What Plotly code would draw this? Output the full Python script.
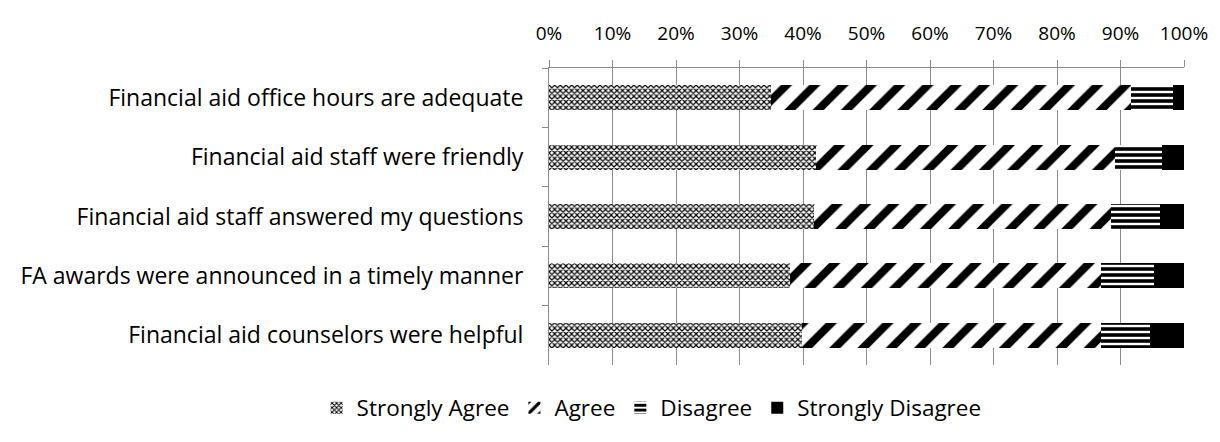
import plotly.graph_objects as go

categories = [
    "Financial aid office hours are adequate",
    "Financial aid staff were friendly",
    "Financial aid staff answered my questions",
    "FA awards were announced in a timely manner",
    "Financial aid counselors were helpful",
]
strongly_agree = [35.0, 42.0, 41.7, 38.0, 39.9]
agree = [56.6, 47.1, 46.8, 49.0, 47.1]
disagree = [6.6, 7.4, 7.7, 8.2, 7.7]
strongly_disagree = [1.8, 3.5, 3.8, 4.8, 5.3]
tick_vals = [0, 10, 20, 30, 40, 50, 60, 70, 80, 90, 100]
tick_text = [f"{v}%" for v in tick_vals]

series = [
    ("Strongly Agree", strongly_agree, dict(shape="x", size=4, solidity=0.5)),
    ("Agree", agree, dict(shape="/", size=20, solidity=0.4)),
    ("Disagree", disagree, dict(shape="-", size=6, solidity=0.6)),
    ("Strongly Disagree", strongly_disagree, None),
]

fig = go.Figure()
for name, vals, pat in series:
    marker = dict(color="black", line=dict(width=0))
    if pat is not None:
        marker["pattern"] = dict(fillmode="replace", fgcolor="black", bgcolor="white",
                                 fgopacity=1, **pat)
    fig.add_trace(go.Bar(
        y=categories, x=vals, name=name, orientation="h", marker=marker,
    ))

fig.update_layout(
    barmode="stack",
    bargap=0.58,
    width=1212, height=434,
    margin=dict(l=539, r=34, t=42, b=69),
    paper_bgcolor="white", plot_bgcolor="white",
    font=dict(family="Open Sans, sans-serif", size=19, color="black"),
    legend=dict(orientation="h", x=-0.366, xanchor="left", y=-0.145, yanchor="middle",
                font=dict(size=22.5), traceorder="normal"),
    showlegend=True,
)
fig.update_xaxes(
    side="top", range=[0, 100], tickvals=tick_vals, ticktext=tick_text,
    showgrid=True, gridcolor="#8c8c8c", gridwidth=1,
    showline=True, linecolor="#8c8c8c", linewidth=1,
    ticks="outside", ticklen=7, tickcolor="#8c8c8c",
    zeroline=False, tickfont=dict(size=19), ticklabelstandoff=12,
)
fig.update_yaxes(
    autorange="reversed", showline=True, linecolor="#8c8c8c", linewidth=1,
    ticks="outside", ticklen=6, tickcolor="#8c8c8c", tickson="boundaries",
    showgrid=False, tickfont=dict(size=23), ticklabelstandoff=20,
)
fig.write_html("out.html")
